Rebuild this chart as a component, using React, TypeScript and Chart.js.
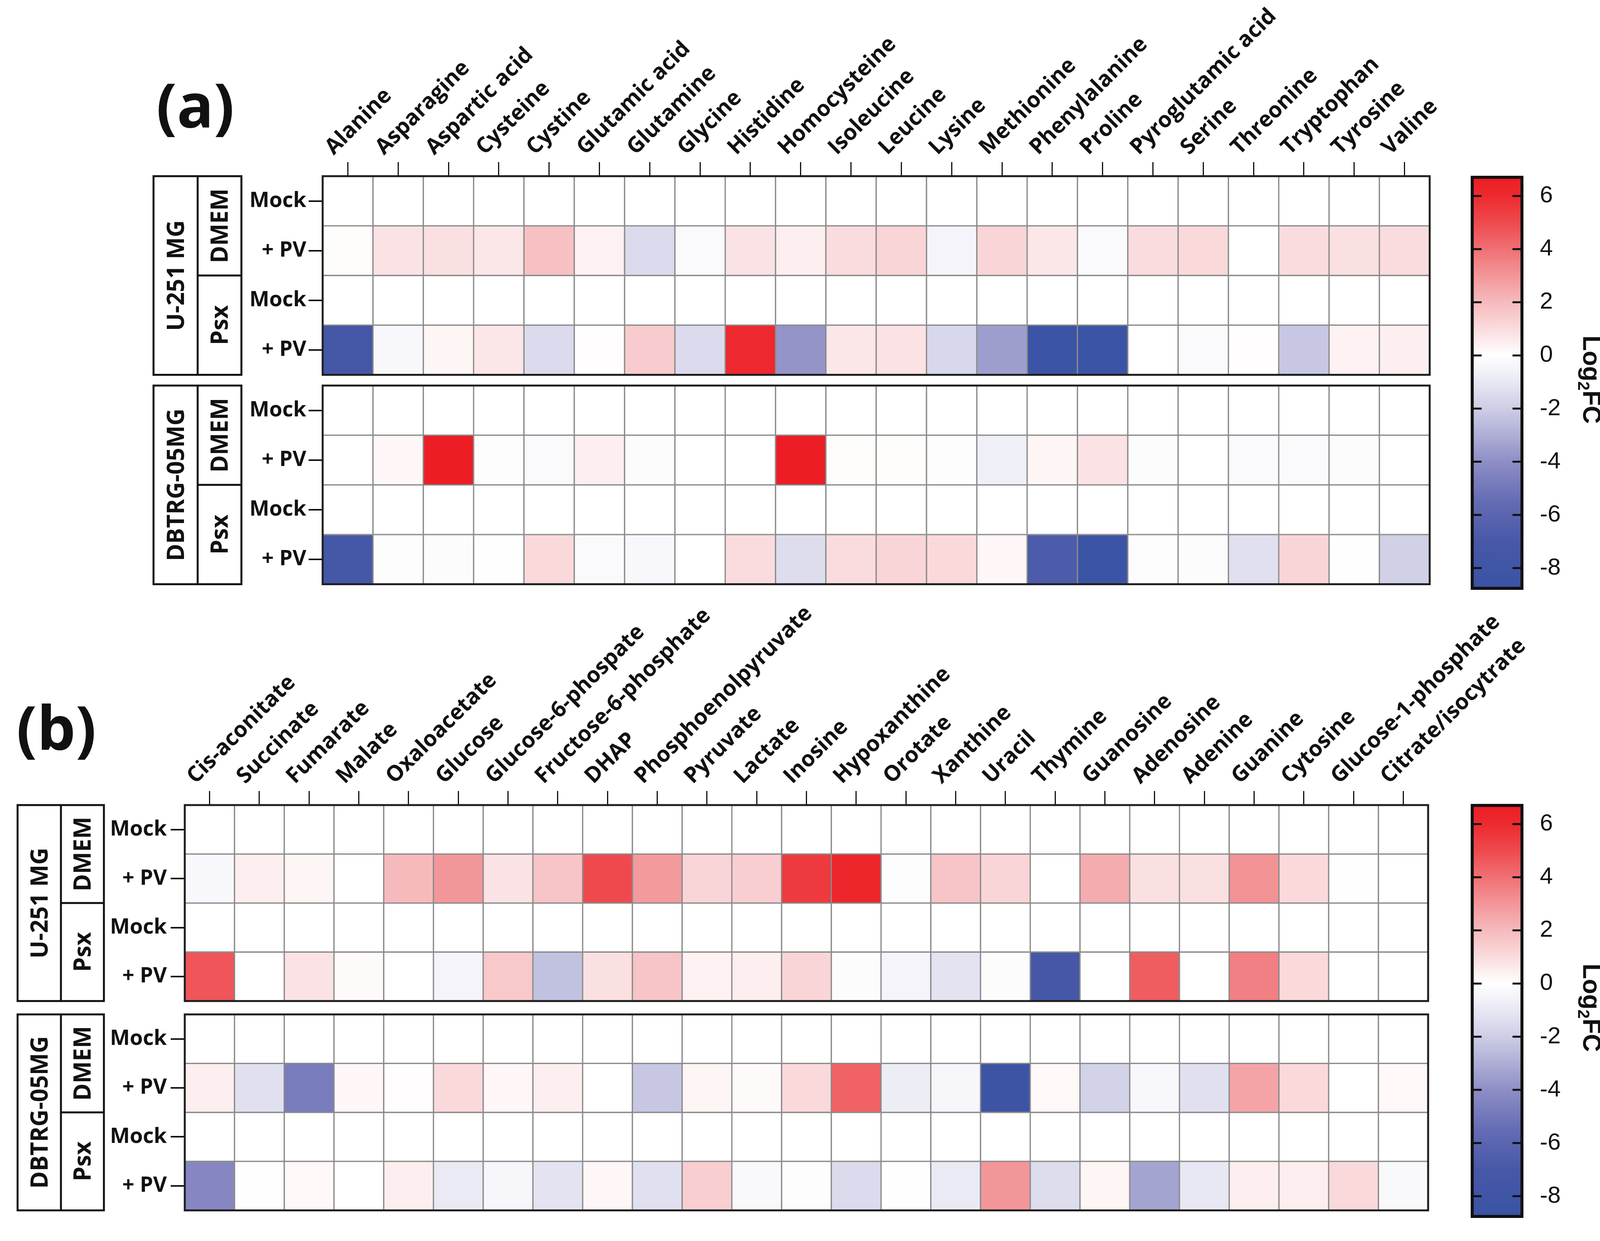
import React, { useEffect, useRef } from 'react';
import { Chart, registerables } from 'chart.js';
Chart.register(...registerables);

// ---------------- DATA ----------------
const A_COLUMNS = ['Alanine', 'Asparagine', 'Aspartic acid', 'Cysteine', 'Cystine', 'Glutamic acid', 'Glutamine', 'Glycine', 'Histidine', 'Homocysteine', 'Isoleucine', 'Leucine', 'Lysine', 'Methionine', 'Phenylalanine', 'Proline', 'Pyroglutamic acid', 'Serine', 'Threonine', 'Tryptophan', 'Tyrosine', 'Valine'];
const B_COLUMNS = ['Cis-aconitate', 'Succinate', 'Fumarate', 'Malate', 'Oxaloacetate', 'Glucose', 'Glucose-6-phospate', 'Fructose-6-phosphate', 'DHAP', 'Phosphoenolpyruvate', 'Pyruvate', 'Lactate', 'Inosine', 'Hypoxanthine', 'Orotate', 'Xanthine', 'Uracil', 'Thymine', 'Guanosine', 'Adenosine', 'Adenine', 'Guanine', 'Cytosine', 'Glucose-1-phosphate', 'Citrate/isocytrate'];
const ROW_LABELS = ['Mock', '+ PV', 'Mock', '+ PV', 'Mock', '+ PV', 'Mock', '+ PV'];
const CELL_LINES = ['U-251 MG', 'DBTRG-05MG'];
const MEDIA = ['DMEM', 'Psx'];
const COLORBAR_TICKS = [6, 4, 2, 0, -2, -4, -6, -8];
const COLORBAR_MIN = -8.82;
const COLORBAR_MAX = 6.76;

// panel (a): amino acids, log2 fold change
const A_U251_DMEM_MOCK = [0, 0, 0, 0, 0, 0, 0, 0, 0, 0, 0, 0, 0, 0, 0, 0, 0, 0, 0, 0, 0, 0];
const A_U251_DMEM_PV = [0.1, 0.8, 0.9, 0.7, 1.8, 0.4, -1.5, -0.2, 0.8, 0.5, 1.0, 1.2, -0.5, 1.2, 0.7, -0.2, 1.0, 1.1, 0, 1.0, 0.9, 1.0];
const A_U251_PSX_MOCK = [0, 0, 0, 0, 0, 0, 0, 0, 0, 0, 0, 0, 0, 0, 0, 0, 0, 0, 0, 0, 0, 0];
const A_U251_PSX_PV = [-7.5, -0.3, 0.3, 0.7, -1.5, 0.05, 1.5, -1.5, 6.1, -3.8, 0.7, 0.8, -1.6, -3.5, -8.5, -8.5, 0, -0.2, 0.05, -2.2, 0.4, 0.45];
const A_DBTRG_DMEM_MOCK = [0, 0, 0, 0, 0, 0, 0, 0, 0, 0, 0, 0, 0, 0, 0, 0, 0, 0, 0, 0, 0, 0];
const A_DBTRG_DMEM_PV = [0, 0.25, 6.7, -0.1, -0.2, 0.5, -0.15, 0, 0, 6.7, 0.1, 0.1, -0.1, -0.7, 0.3, 0.8, -0.15, 0, -0.2, -0.2, -0.15, 0];
const A_DBTRG_PSX_MOCK = [0, 0, 0, 0, 0, 0, 0, 0, 0, 0, 0, 0, 0, 0, 0, 0, 0, 0, 0, 0, 0, 0];
const A_DBTRG_PSX_PV = [-7.4, -0.1, -0.15, -0.05, 1.1, -0.2, -0.3, 0, 1.0, -1.4, 1.0, 1.2, 1.1, 0.25, -6.8, -8.5, -0.1, -0.15, -1.3, 1.2, 0.02, -1.9];

// panel (b): central carbon / nucleotide metabolites, log2 fold change
const B_U251_DMEM_MOCK = [0, 0, 0, 0, 0, 0, 0, 0, 0, 0, 0, 0, 0, 0, 0, 0, 0, 0, 0, 0, 0, 0, 0, 0, 0];
const B_U251_DMEM_PV = [-0.3, 0.5, 0.3, 0, 2.0, 3.0, 0.8, 1.7, 5.0, 2.9, 1.2, 1.4, 5.5, 6.2, -0.1, 1.7, 1.2, 0, 2.4, 0.9, 0.9, 3.1, 1.1, 0.03, 0];
const B_U251_PSX_MOCK = [0, 0, 0, 0, 0, 0, 0, 0, 0, 0, 0, 0, 0, 0, 0, 0, 0, 0, 0, 0, 0, 0, 0, 0, 0];
const B_U251_PSX_PV = [4.7, 0, 0.8, 0.15, 0, -0.5, 1.6, -2.4, 0.9, 1.7, 0.4, 0.5, 1.2, -0.15, -0.5, -1.2, -0.15, -7.3, 0, 4.5, 0, 3.6, 1.1, 0, 0];
const B_DBTRG_DMEM_MOCK = [0, 0, 0, 0, 0, 0, 0, 0, 0, 0, 0, 0, 0, 0, 0, 0, 0, 0, 0, 0, 0, 0, 0, 0, 0];
const B_DBTRG_DMEM_PV = [0.5, -1.3, -4.8, 0.25, 0.05, 1.1, 0.25, 0.45, 0, -2.2, 0.3, 0.15, 1.1, 4.4, -0.8, -0.4, -8.3, 0.2, -1.8, -0.3, -1.3, 2.6, 1.1, 0, 0.2];
const B_DBTRG_PSX_MOCK = [0, 0, 0, 0, 0, 0, 0, 0, 0, 0, 0, 0, 0, 0, 0, 0, 0, 0, 0, 0, 0, 0, 0, 0, 0];
const B_DBTRG_PSX_PV = [-4.3, 0.02, 0.2, 0, 0.5, -0.9, -0.4, -1.2, 0.25, -1.3, 1.4, -0.25, -0.1, -1.5, 0.02, -0.9, 3.0, -1.4, 0.3, -3.3, -1.0, 0.5, 0.5, 1.1, -0.25];

// ---------------- STYLE ----------------
const COLOR_STOPS: [number, [number, number, number]][] = [
  [-8.82, [57, 83, 164]],
  [-7, [72, 88, 168]],
  [-5.5, [100, 108, 180]],
  [-4, [142, 142, 198]],
  [-3, [174, 174, 214]],
  [-2, [205, 205, 230]],
  [-1, [232, 232, 244]],
  [0, [255, 255, 255]],
  [1, [250, 220, 222]],
  [2, [246, 186, 189]],
  [3, [243, 150, 153]],
  [4, [240, 112, 116]],
  [5, [238, 74, 78]],
  [6, [237, 42, 47]],
  [6.76, [237, 28, 36]],
];

const rgb = (c: number[]) => `rgb(${Math.round(c[0])},${Math.round(c[1])},${Math.round(c[2])})`;
function colorFor(v: number): string {
  const s = COLOR_STOPS;
  if (v <= s[0][0]) return rgb(s[0][1]);
  for (let i = 1; i < s.length; i++) {
    if (v <= s[i][0]) {
      const [v0, c0] = s[i - 1];
      const [v1, c1] = s[i];
      const t = (v - v0) / (v1 - v0);
      return rgb([c0[0] + (c1[0] - c0[0]) * t, c0[1] + (c1[1] - c0[1]) * t, c0[2] + (c1[2] - c0[2]) * t]);
    }
  }
  return rgb(s[s.length - 1][1]);
}

const BOLD = "'Open Sans', 'DejaVu Sans', sans-serif";
const INK = '#111111';
const PAGE_W = 4135;

type HeatProps = {
  columns: string[];
  rows: number[][];
  gap: number;
  top: number;
  height: number;
  yAxisW: number;
  xAxisH: number;
  areaRight: number;
  padBottom: number;
  box: [number, number, number];
  letter: string;
  letterX: number;
  letterY: number;
  tickPad: number;
};

function Heatmap(p: HeatProps) {
  const ref = useRef<HTMLCanvasElement | null>(null);
  useEffect(() => {
    if (!ref.current) return;
    const gap = p.gap;
    const starts = [0, 1, 2, 3, 4 + gap, 5 + gap, 6 + gap, 7 + gap];
    const centers = starts.map((s) => s + 0.5);
    const blocks = [0, 4 + gap];

    const decor = {
      id: 'decor',
      afterDraw(chart: any) {
        const { ctx, chartArea, scales } = chart;
        const y = scales.y;
        ctx.save();
        // block frames
        ctx.strokeStyle = '#1e1e1e';
        ctx.lineWidth = 5;
        blocks.forEach((b) => {
          const t = y.getPixelForValue(b);
          const btm = y.getPixelForValue(b + 4);
          ctx.strokeRect(chartArea.left, t, chartArea.right - chartArea.left, btm - t);
        });
        // group boxes
        const [x0, x1, x2] = p.box;
        const rot = (txt: string, cx: number, cy: number) => {
          ctx.save();
          ctx.translate(cx, cy);
          ctx.rotate(-Math.PI / 2);
          ctx.fillText(txt, 0, 0);
          ctx.restore();
        };
        blocks.forEach((b, i) => {
          const t = y.getPixelForValue(b);
          const m = y.getPixelForValue(b + 2);
          const btm = y.getPixelForValue(b + 4);
          ctx.strokeStyle = INK;
          ctx.lineWidth = 5;
          ctx.strokeRect(x0, t, x2 - x0, btm - t);
          ctx.beginPath();
          ctx.moveTo(x1, t);
          ctx.lineTo(x1, btm);
          ctx.moveTo(x1, m);
          ctx.lineTo(x2, m);
          ctx.stroke();
          ctx.fillStyle = INK;
          ctx.font = `bold 60px ${BOLD}`;
          ctx.textAlign = 'center';
          ctx.textBaseline = 'middle';
          rot(CELL_LINES[i], (x0 + x1) / 2 + 4, (t + btm) / 2);
          rot(MEDIA[0], (x1 + x2) / 2 + 4, (t + m) / 2);
          rot(MEDIA[1], (x1 + x2) / 2 + 4, (m + btm) / 2);
        });
        // panel letter
        ctx.font = `bold 156px ${BOLD}`;
        ctx.textAlign = 'left';
        ctx.textBaseline = 'alphabetic';
        ctx.fillStyle = INK;
        ctx.fillText(p.letter, p.letterX, p.letterY);
        ctx.restore();
      },
    };

    const chart = new Chart(ref.current, {
      type: 'bar',
      data: {
        labels: p.columns,
        datasets: p.rows.map((vals, r) => ({
          label: ROW_LABELS[r],
          data: vals.map(() => [starts[r], starts[r] + 1]),
          backgroundColor: vals.map(colorFor),
          borderColor: '#8a8a8a',
          borderWidth: 2,
          borderSkipped: false,
          grouped: false,
          barPercentage: 1,
          categoryPercentage: 1,
        })) as any,
      },
      options: {
        responsive: false,
        animation: false,
        devicePixelRatio: 1,
        events: [],
        layout: { padding: { left: 0, top: 0, right: PAGE_W - p.areaRight, bottom: p.padBottom } },
        plugins: { legend: { display: false }, tooltip: { enabled: false }, title: { display: false } },
        scales: {
          x: {
            type: 'category',
            position: 'top',
            offset: true,
            grid: { display: true, drawOnChartArea: false, drawTicks: true, tickLength: 36, offset: false, color: INK, lineWidth: 3 },
            border: { display: false },
            ticks: {
              autoSkip: false,
              maxRotation: 45,
              minRotation: 45,
              padding: 4,
              color: INK,
              font: { family: BOLD, size: 56, weight: 'bold' },
            },
            afterFit: (s: any) => {
              s.height = p.xAxisH;
            },
          },
          y: {
            type: 'linear',
            reverse: true,
            min: 0,
            max: 8 + gap,
            afterBuildTicks: (s: any) => {
              s.ticks = centers.map((v) => ({ value: v }));
            },
            grid: { display: true, drawOnChartArea: false, drawTicks: true, tickLength: 36, color: INK, lineWidth: 4 },
            border: { display: false },
            ticks: {
              padding: p.tickPad,
              color: INK,
              font: { family: BOLD, size: 54, weight: 'bold' },
              callback: (_v: any, i: number) => ROW_LABELS[i],
            },
            afterFit: (s: any) => {
              s.width = p.yAxisW;
            },
          },
        },
      } as any,
      plugins: [decor],
    });
    return () => chart.destroy();
  }, []);
  return (
    <canvas
      ref={ref}
      width={PAGE_W}
      height={p.height}
      style={{ position: 'absolute', left: 0, top: p.top, width: PAGE_W, height: p.height }}
    />
  );
}

type BarProps = { left: number; top: number; chartHeight: number };

function ColorBar(p: BarProps) {
  const ref = useRef<HTMLCanvasElement | null>(null);
  const W = 435;
  const H = 1200;
  const padTop = 70;
  const padLeft = 65;
  const barW = 135;
  useEffect(() => {
    if (!ref.current) return;
    const marks = {
      id: 'marks',
      afterDatasetsDraw(chart: any) {
        const { ctx, chartArea, scales } = chart;
        const y = scales.y;
        ctx.save();
        ctx.strokeStyle = INK;
        ctx.lineWidth = 5;
        COLORBAR_TICKS.forEach((v) => {
          const py = y.getPixelForValue(v);
          ctx.beginPath();
          ctx.moveTo(chartArea.left + 4, py);
          ctx.lineTo(chartArea.left + 28, py);
          ctx.moveTo(chartArea.right - 28, py);
          ctx.lineTo(chartArea.right - 4, py);
          ctx.stroke();
        });
        // Log2FC title
        const cx = chartArea.right + 175;
        const cy = (chartArea.top + chartArea.bottom) / 2 - 8;
        ctx.translate(cx, cy);
        ctx.rotate(Math.PI / 2);
        ctx.fillStyle = INK;
        ctx.textBaseline = 'alphabetic';
        ctx.textAlign = 'left';
        const big = `bold 64px 'Liberation Sans', Arial, sans-serif`;
        const small = `bold 42px 'Liberation Sans', Arial, sans-serif`;
        ctx.font = big;
        const w1 = ctx.measureText('Log').width;
        const w3 = ctx.measureText('FC').width;
        ctx.font = small;
        const w2 = ctx.measureText('2').width;
        const total = w1 + w2 + w3;
        let x = -total / 2;
        const base = 22;
        ctx.font = big;
        ctx.fillText('Log', x, base);
        x += w1;
        ctx.font = small;
        ctx.fillText('2', x, base + 13);
        x += w2;
        ctx.font = big;
        ctx.fillText('FC', x, base);
        ctx.restore();
      },
    };
    const grad = (c: any) => {
      const chart = c.chart;
      const { chartArea, scales } = chart;
      if (!chartArea || !scales.y) return 'rgba(0,0,0,0)';
      const y = scales.y;
      const y0 = y.getPixelForValue(COLORBAR_MAX);
      const y1 = y.getPixelForValue(COLORBAR_MIN);
      const g = chart.ctx.createLinearGradient(0, y0, 0, y1);
      COLOR_STOPS.forEach(([v, col]) => {
        g.addColorStop((COLORBAR_MAX - v) / (COLORBAR_MAX - COLORBAR_MIN), rgb(col));
      });
      return g;
    };
    const chart = new Chart(ref.current, {
      type: 'bar',
      data: {
        labels: ['Log2FC'],
        datasets: [
          {
            data: [[COLORBAR_MIN, COLORBAR_MAX]],
            backgroundColor: grad,
            borderColor: INK,
            borderWidth: 8,
            borderSkipped: false,
            barPercentage: 1,
            categoryPercentage: 1,
          },
        ] as any,
      },
      options: {
        responsive: false,
        animation: false,
        devicePixelRatio: 1,
        events: [],
        layout: { padding: { left: padLeft, top: padTop, right: 0, bottom: H - padTop - p.chartHeight } },
        plugins: { legend: { display: false }, tooltip: { enabled: false } },
        scales: {
          x: { display: false, offset: true },
          y: {
            position: 'right',
            min: COLORBAR_MIN,
            max: COLORBAR_MAX,
            afterBuildTicks: (s: any) => {
              s.ticks = COLORBAR_TICKS.map((v) => ({ value: v }));
            },
            grid: { display: false },
            border: { display: false },
            ticks: {
              padding: 34,
              color: INK,
              font: { family: "'Liberation Sans', Arial, sans-serif", size: 60 },
              callback: (v: any) => String(v),
            },
            afterFit: (s: any) => {
              s.width = W - padLeft - barW;
            },
          },
        },
      } as any,
      plugins: [marks],
    });
    return () => chart.destroy();
  }, []);
  return (
    <canvas
      ref={ref}
      width={W}
      height={H}
      style={{ position: 'absolute', left: p.left, top: p.top, width: W, height: H }}
    />
  );
}

export default function App() {
  return (
    <div style={{ position: 'absolute', left: 0, top: 0, width: 4135, height: 3177, background: '#ffffff', overflow: 'hidden' }}>
      <Heatmap
        columns={A_COLUMNS}
        rows={[A_U251_DMEM_MOCK, A_U251_DMEM_PV, A_U251_PSX_MOCK, A_U251_PSX_PV, A_DBTRG_DMEM_MOCK, A_DBTRG_DMEM_PV, A_DBTRG_PSX_MOCK, A_DBTRG_PSX_PV]}
        gap={0.216}
        top={0}
        height={1534}
        yAxisW={826}
        xAxisH={451}
        areaRight={3660}
        padBottom={20}
        box={[393, 506, 618]}
        letter="(a)"
        letterX={400}
        letterY={326}
        tickPad={6}
      />
      <Heatmap
        columns={B_COLUMNS}
        rows={[B_U251_DMEM_MOCK, B_U251_DMEM_PV, B_U251_PSX_MOCK, B_U251_PSX_PV, B_DBTRG_DMEM_MOCK, B_DBTRG_DMEM_PV, B_DBTRG_PSX_MOCK, B_DBTRG_PSX_PV]}
        gap={0.273}
        top={1530}
        height={1611}
        yAxisW={473}
        xAxisH={531}
        areaRight={3656}
        padBottom={20}
        box={[45, 156, 266]}
        letter="(b)"
        letterX={42}
        letterY={390}
        tickPad={10}
      />
      <ColorBar left={3700} top={380} chartHeight={1072} />
      <ColorBar left={3700} top={1988} chartHeight={1065} />
    </div>
  );
}
